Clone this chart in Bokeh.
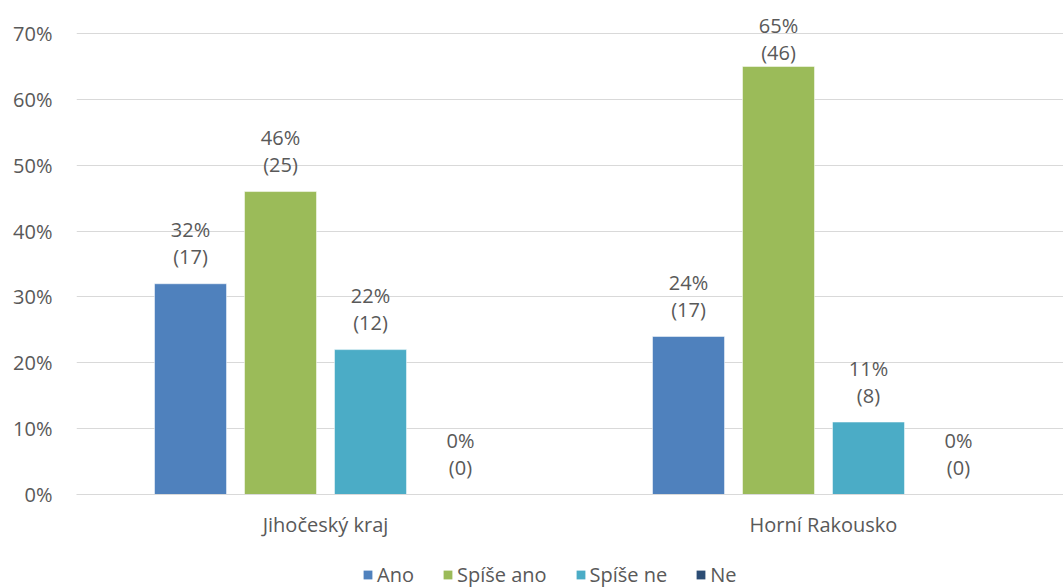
from bokeh.plotting import figure
from bokeh.layouts import column
from bokeh.models import (Range1d, FixedTicker, NumeralTickFormatter, Legend, LegendItem,
                          ColumnDataSource)
from bokeh.core.properties import value
from bokeh.embed import file_html
from bokeh.resources import INLINE

regions = ["Jihočeský kraj", "Horní Rakousko"]
series = ["Ano", "Spíše ano", "Spíše ne", "Ne"]
colors = ["#4F81BD", "#9BBB59", "#4BACC6", "#2C4D75"]
pct = {
    "Ano": [32, 24],
    "Spíše ano": [46, 65],
    "Spíše ne": [22, 11],
    "Ne": [0, 0],
}
counts = {
    "Ano": [17, 17],
    "Spíše ano": [25, 46],
    "Spíše ne": [12, 8],
    "Ne": [0, 0],
}
y_ticks = [0, 0.1, 0.2, 0.3, 0.4, 0.5, 0.6, 0.7]

FONT = "Open Sans"
FS = "20px"
TXT = "#595959"
GRID = "#d9d9d9"

W, H = 1063, 550
LEG_H = 38
left, top_b, bottom_b = 76, 0, 56
frame_w = W - left
unit_px = 498.0
frame_h = H - top_b - bottom_b
ymax = 0.70 * frame_h / (494 - 33)

p = figure(width=W, height=H, output_backend="svg", toolbar_location=None,
           x_range=Range1d(0, frame_w / unit_px), y_range=Range1d(0, ymax),
           min_border_left=left, min_border_right=0, min_border_top=top_b,
           min_border_bottom=bottom_b, outline_line_color=None)
p.background_fill_color = "white"
p.border_fill_color = "white"

step = 0.1807
bw = 0.1446
label_off = 40.5 / frame_h * ymax
label_cap = (494 - 38.5) / frame_h * ymax

for i, s in enumerate(series):
    xs = [g + 0.5 + (i - 1.5) * step for g in range(len(regions))]
    tops = [v / 100 for v in pct[s]]
    src = ColumnDataSource(dict(x=xs, top=tops))
    p.vbar(x="x", top="top", width=bw, source=src, fill_color=colors[i],
           line_color="white", line_alpha=0.5, line_width=1)
    ly = [min(t + label_off, label_cap) for t in tops]
    txt = [f"{v}%\n({n})" for v, n in zip(pct[s], counts[s])]
    lsrc = ColumnDataSource(dict(x=xs, y=ly, t=txt))
    p.text(x="x", y="y", text="t", source=lsrc, text_align="center",
           text_baseline="middle", text_font=value(FONT), text_font_size=FS,
           text_color=TXT, text_line_height=1.0)

# grid
p.xgrid.visible = False
p.ygrid.ticker = FixedTicker(ticks=y_ticks)
p.ygrid.grid_line_color = GRID
p.ygrid.grid_line_width = 1

# y axis
p.yaxis.ticker = FixedTicker(ticks=y_ticks)
p.yaxis.formatter = NumeralTickFormatter(format="0%")
p.yaxis.axis_line_color = None
p.yaxis.major_tick_line_color = None
p.yaxis.minor_tick_line_color = None
p.yaxis.major_label_text_font = FONT
p.yaxis.major_label_text_font_size = FS
p.yaxis.major_label_text_color = TXT
p.yaxis.major_label_standoff = 18

# x axis
p.xaxis.ticker = FixedTicker(ticks=[g + 0.5 for g in range(len(regions))])
p.xaxis.major_label_overrides = {g + 0.5: r for g, r in enumerate(regions)}
p.xaxis.axis_line_color = GRID
p.xaxis.major_tick_line_color = None
p.xaxis.minor_tick_line_color = None
p.xaxis.major_label_text_font = FONT
p.xaxis.major_label_text_font_size = FS
p.xaxis.major_label_text_color = TXT
p.xaxis.major_label_standoff = 10

# legend strip below the chart (frame aligned with the chart's frame)
lf = figure(width=W, height=LEG_H, output_backend="svg", toolbar_location=None,
            x_range=Range1d(0, 1), y_range=Range1d(0, 1),
            min_border=0, outline_line_color=None)
lf.axis.visible = False
lf.grid.visible = False
lf.border_fill_color = "white"
leg_src = ColumnDataSource(dict(x=[5], top=[0]))  # off-range placeholder, only for swatches
leg_r = []
for i, s in enumerate(series):
    leg_r.append(lf.vbar(x="x", top="top", width=0.1, source=leg_src,
                         fill_color=colors[i], line_color=None))
legend = Legend(items=[LegendItem(label=s, renderers=[r]) for s, r in zip(series, leg_r)],
                orientation="horizontal", location=(286, 0),
                glyph_width=11, glyph_height=11, label_standoff=4, spacing=28,
                label_text_font=FONT, label_text_font_size=FS, label_text_color=TXT,
                border_line_color=None, background_fill_alpha=0, padding=0, margin=0)
lf.add_layout(legend, "center")

layout = column(p, lf, spacing=0)
open("out.html", "w").write(file_html(layout, INLINE))
